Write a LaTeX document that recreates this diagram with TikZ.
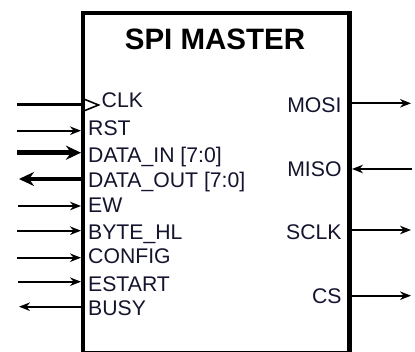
\documentclass[tikz,border=0pt]{standalone}
\usepackage{fontspec}
\setmainfont{Liberation Sans}
\usetikzlibrary{arrows.meta}
\definecolor{lbl}{HTML}{14142E}
\tikzset{
  pin/.style={line width=2.3pt, -{Stealth[length=11pt,width=8.5pt]}},
  bus/.style={line width=4.5pt, -{Stealth[length=15pt,width=14pt]}},
  lpin/.style={anchor=base west, inner sep=0pt, text=lbl, font=\fontsize{21.2}{23}\selectfont},
  rpin/.style={anchor=base east, inner sep=0pt, text=lbl, font=\fontsize{21.2}{23}\selectfont},
  title/.style={anchor=base, inner sep=0pt, font=\fontsize{29.5}{31}\selectfont\bfseries},
}
\begin{document}
\begin{tikzpicture}[x=1pt,y=-1pt]
\useasboundingbox (0,0) rectangle (415,352);
\begin{scope}
\clip (0,0) rectangle (415,352);
\draw[line width=4.5pt, fill=white] (83,13) rectangle (349.5,353);
\end{scope}
\node[title] (ttl) at (215,49.5) {SPI MASTER};
% left side coordinates
\coordinate (clkA) at (17,104.5);   \coordinate (clkB) at (83,104.5);
\coordinate (rstA) at (17,130.7);   \coordinate (rstB) at (81,130.7);
\coordinate (dinA) at (17,152.7);   \coordinate (dinB) at (81,152.7);
\coordinate (doutA) at (81,179);    \coordinate (doutB) at (19,179);
\coordinate (ewA) at (18,206);      \coordinate (ewB) at (81,206);
\coordinate (bhA) at (17,230.7);    \coordinate (bhB) at (81,230.7);
\coordinate (cfgA) at (17,257.7);   \coordinate (cfgB) at (81,257.7);
\coordinate (esA) at (18,281.7);    \coordinate (esB) at (81,281.7);
\coordinate (bsA) at (81,306.7);    \coordinate (bsB) at (19,306.7);
% right side coordinates
\coordinate (mosiA) at (351.5,103.3); \coordinate (mosiB) at (411,103.3);
\coordinate (misoA) at (412,169);     \coordinate (misoB) at (352,169);
\coordinate (sclkA) at (351.5,230);   \coordinate (sclkB) at (411,230);
\coordinate (csA) at (351.5,295.7);   \coordinate (csB) at (411,295.7);
% connectors
\draw[line width=2.3pt] (clkA) -- (clkB);
\coordinate (t1) at (85,99.5); \coordinate (t2) at (98.5,105); \coordinate (t3) at (85,110.5);
\draw[line width=1.6pt] (t1) -- (t2) -- (t3);
\draw[pin] (rstA) -- (rstB);
\draw[bus] (dinA) -- (dinB);
\draw[bus] (doutA) -- (doutB);
\draw[pin] (ewA) -- (ewB);
\draw[pin] (bhA) -- (bhB);
\draw[pin] (cfgA) -- (cfgB);
\draw[pin] (esA) -- (esB);
\draw[pin] (bsA) -- (bsB);
\draw[pin] (mosiA) -- (mosiB);
\draw[pin] (misoA) -- (misoB);
\draw[pin] (sclkA) -- (sclkB);
\draw[pin] (csA) -- (csB);
% labels
\node[lpin] (lclk) at (101.5,107.5) {CLK};
\node[lpin] (lrst) at (88,135.5) {RST};
\node[lpin] (ldin) at (88,163) {DATA\_IN [7:0]};
\node[lpin] (ldout) at (88,187.5) {DATA\_OUT [7:0]};
\node[lpin] (lew) at (88,212.5) {EW};
\node[lpin] (lbh) at (88,239.5) {BYTE\_HL};
\node[lpin] (lcfg) at (88,263.5) {CONFIG};
\node[lpin] (les) at (88,291.5) {ESTART};
\node[lpin] (lbs) at (88,315.5) {BUSY};
\node[rpin] (lmosi) at (341.7,112.5) {MOSI};
\node[rpin] (lmiso) at (341.7,177) {MISO};
\node[rpin] (lsclk) at (341.7,239.5) {SCLK};
\node[rpin] (lcs) at (341.7,303.5) {CS};
\end{tikzpicture}
\end{document}
